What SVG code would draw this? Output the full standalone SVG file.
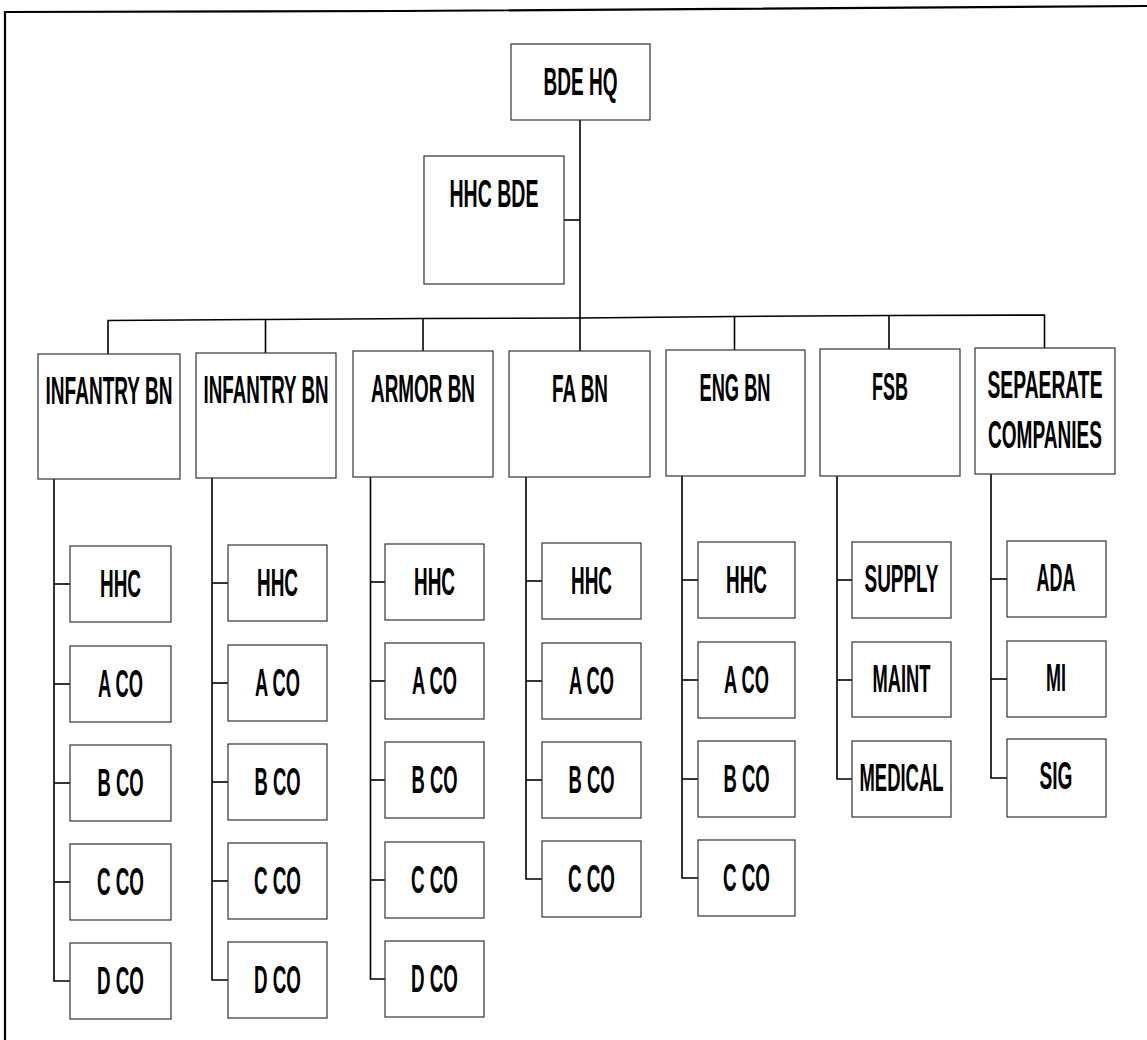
<svg xmlns="http://www.w3.org/2000/svg" width="1147" height="1040" viewBox="0 0 1147 1040">
<style>
.bg{fill:#fff}
.box{fill:#fff;stroke:#333;stroke-width:1.2}
.ln{fill:none;stroke:#000;stroke-width:1.6}
.frame{fill:none;stroke:#000;stroke-width:2.2}
text{font-family:"Liberation Sans",Arial,sans-serif;font-weight:bold;font-size:39px;fill:#000;text-anchor:middle}
</style>
<rect class="bg" x="0" y="0" width="1147" height="1040"/>
<g id="frame">
<polyline class="frame" points="5,1040 5,12 400,11 1147,6"/>
</g>
<g id="connectors">
<line class="ln" x1="580" y1="120" x2="580" y2="318"/>
<line class="ln" x1="564" y1="220" x2="580" y2="220"/>
<polyline class="ln" points="108,354 108,320.5 265.5,319.5 423,318.5 580,318 734.5,316.5 889,315.5 1044.5,315 1044.5,348"/>
<line class="ln" x1="265.5" y1="319.5" x2="265.5" y2="353"/>
<line class="ln" x1="423" y1="318.5" x2="423" y2="351"/>
<line class="ln" x1="580" y1="318" x2="580" y2="351"/>
<line class="ln" x1="734.5" y1="316.5" x2="734.5" y2="350"/>
<line class="ln" x1="889" y1="315.5" x2="889" y2="349"/>
<polyline class="ln" points="54,479 54,981 70,981"/>
<line class="ln" x1="54" y1="584" x2="70" y2="584"/>
<line class="ln" x1="54" y1="684" x2="70" y2="684"/>
<line class="ln" x1="54" y1="783" x2="70" y2="783"/>
<line class="ln" x1="54" y1="882" x2="70" y2="882"/>
<polyline class="ln" points="212,478 212,980 228,980"/>
<line class="ln" x1="212" y1="583" x2="228" y2="583"/>
<line class="ln" x1="212" y1="683" x2="228" y2="683"/>
<line class="ln" x1="212" y1="782" x2="228" y2="782"/>
<line class="ln" x1="212" y1="881" x2="228" y2="881"/>
<polyline class="ln" points="370.5,477 370.5,979 385,979"/>
<line class="ln" x1="370.5" y1="582" x2="385" y2="582"/>
<line class="ln" x1="370.5" y1="681" x2="385" y2="681"/>
<line class="ln" x1="370.5" y1="780" x2="385" y2="780"/>
<line class="ln" x1="370.5" y1="880" x2="385" y2="880"/>
<polyline class="ln" points="526,477 526,879 542,879"/>
<line class="ln" x1="526" y1="581" x2="542" y2="581"/>
<line class="ln" x1="526" y1="681" x2="542" y2="681"/>
<line class="ln" x1="526" y1="780" x2="542" y2="780"/>
<polyline class="ln" points="682,476 682,878 698,878"/>
<line class="ln" x1="682" y1="580" x2="698" y2="580"/>
<line class="ln" x1="682" y1="680" x2="698" y2="680"/>
<line class="ln" x1="682" y1="779" x2="698" y2="779"/>
<polyline class="ln" points="837,476 837,779 852,779"/>
<line class="ln" x1="837" y1="580" x2="852" y2="580"/>
<line class="ln" x1="837" y1="680" x2="852" y2="680"/>
<polyline class="ln" points="991,474 991,778 1007,778"/>
<line class="ln" x1="991" y1="579" x2="1007" y2="579"/>
<line class="ln" x1="991" y1="679" x2="1007" y2="679"/>
</g>
<g id="bde-hq"><rect class="box" x="511" y="44" width="139" height="76"/><text transform="translate(580.5,95) scale(0.5,1)" textLength="148" lengthAdjust="spacingAndGlyphs">BDE HQ</text></g>
<g id="hhc-bde"><rect class="box" x="424" y="156" width="140" height="128"/><text transform="translate(494,207) scale(0.5,1)" textLength="178" lengthAdjust="spacingAndGlyphs">HHC BDE</text></g>

<g id="inf-bn-1"><rect class="box" x="38" y="354" width="142" height="125"/><text transform="translate(109,404) scale(0.5,1)" textLength="254" lengthAdjust="spacingAndGlyphs">INFANTRY BN</text></g>
<g id="inf-bn-2"><rect class="box" x="196" y="353" width="140" height="125"/><text transform="translate(266,403) scale(0.5,1)" textLength="250" lengthAdjust="spacingAndGlyphs">INFANTRY BN</text></g>
<g id="armor-bn"><rect class="box" x="353" y="351" width="140" height="126"/><text transform="translate(423,402) scale(0.5,1)" textLength="208" lengthAdjust="spacingAndGlyphs">ARMOR BN</text></g>
<g id="fa-bn"><rect class="box" x="509" y="351" width="141" height="126"/><text transform="translate(580,402) scale(0.5,1)" textLength="112" lengthAdjust="spacingAndGlyphs">FA BN</text></g>
<g id="eng-bn"><rect class="box" x="666" y="350" width="139" height="126"/><text transform="translate(735,401) scale(0.5,1)" textLength="142" lengthAdjust="spacingAndGlyphs">ENG BN</text></g>
<g id="fsb"><rect class="box" x="820" y="349" width="140" height="127"/><text transform="translate(890,400) scale(0.5,1)" textLength="72" lengthAdjust="spacingAndGlyphs">FSB</text></g>
<g id="sep-co"><rect class="box" x="975" y="348" width="140" height="126"/><text transform="translate(1045,398) scale(0.5,1)" textLength="230" lengthAdjust="spacingAndGlyphs">SEPAERATE</text><text transform="translate(1045,448) scale(0.5,1)" textLength="228" lengthAdjust="spacingAndGlyphs">COMPANIES</text></g>

<g id="c1-hhc"><rect class="box" x="70" y="546" width="101" height="76"/><text transform="translate(120.5,597) scale(0.5,1)" textLength="82" lengthAdjust="spacingAndGlyphs">HHC</text></g>
<g id="c1-a"><rect class="box" x="70" y="646" width="101" height="76"/><text transform="translate(120.5,697) scale(0.5,1)" textLength="90" lengthAdjust="spacingAndGlyphs">A CO</text></g>
<g id="c1-b"><rect class="box" x="70" y="745" width="101" height="76"/><text transform="translate(120.5,796) scale(0.5,1)" textLength="92" lengthAdjust="spacingAndGlyphs">B CO</text></g>
<g id="c1-c"><rect class="box" x="70" y="844" width="101" height="76"/><text transform="translate(120.5,895) scale(0.5,1)" textLength="94" lengthAdjust="spacingAndGlyphs">C CO</text></g>
<g id="c1-d"><rect class="box" x="70" y="943" width="101" height="76"/><text transform="translate(120.5,994) scale(0.5,1)" textLength="94" lengthAdjust="spacingAndGlyphs">D CO</text></g>

<g id="c2-hhc"><rect class="box" x="228" y="545" width="99" height="76"/><text transform="translate(277.5,596) scale(0.5,1)" textLength="82" lengthAdjust="spacingAndGlyphs">HHC</text></g>
<g id="c2-a"><rect class="box" x="228" y="645" width="99" height="76"/><text transform="translate(277.5,696) scale(0.5,1)" textLength="90" lengthAdjust="spacingAndGlyphs">A CO</text></g>
<g id="c2-b"><rect class="box" x="228" y="744" width="99" height="76"/><text transform="translate(277.5,795) scale(0.5,1)" textLength="92" lengthAdjust="spacingAndGlyphs">B CO</text></g>
<g id="c2-c"><rect class="box" x="228" y="843" width="99" height="76"/><text transform="translate(277.5,894) scale(0.5,1)" textLength="94" lengthAdjust="spacingAndGlyphs">C CO</text></g>
<g id="c2-d"><rect class="box" x="228" y="942" width="99" height="76"/><text transform="translate(277.5,993) scale(0.5,1)" textLength="94" lengthAdjust="spacingAndGlyphs">D CO</text></g>

<g id="c3-hhc"><rect class="box" x="385" y="544" width="99" height="76"/><text transform="translate(434.5,595) scale(0.5,1)" textLength="82" lengthAdjust="spacingAndGlyphs">HHC</text></g>
<g id="c3-a"><rect class="box" x="385" y="643" width="99" height="76"/><text transform="translate(434.5,694) scale(0.5,1)" textLength="90" lengthAdjust="spacingAndGlyphs">A CO</text></g>
<g id="c3-b"><rect class="box" x="385" y="742" width="99" height="76"/><text transform="translate(434.5,793) scale(0.5,1)" textLength="92" lengthAdjust="spacingAndGlyphs">B CO</text></g>
<g id="c3-c"><rect class="box" x="385" y="842" width="99" height="76"/><text transform="translate(434.5,893) scale(0.5,1)" textLength="94" lengthAdjust="spacingAndGlyphs">C CO</text></g>
<g id="c3-d"><rect class="box" x="385" y="941" width="99" height="76"/><text transform="translate(434.5,992) scale(0.5,1)" textLength="94" lengthAdjust="spacingAndGlyphs">D CO</text></g>

<g id="c4-hhc"><rect class="box" x="542" y="543" width="99" height="76"/><text transform="translate(591.5,594) scale(0.5,1)" textLength="82" lengthAdjust="spacingAndGlyphs">HHC</text></g>
<g id="c4-a"><rect class="box" x="542" y="643" width="99" height="76"/><text transform="translate(591.5,694) scale(0.5,1)" textLength="90" lengthAdjust="spacingAndGlyphs">A CO</text></g>
<g id="c4-b"><rect class="box" x="542" y="742" width="99" height="76"/><text transform="translate(591.5,793) scale(0.5,1)" textLength="92" lengthAdjust="spacingAndGlyphs">B CO</text></g>
<g id="c4-c"><rect class="box" x="542" y="841" width="99" height="76"/><text transform="translate(591.5,892) scale(0.5,1)" textLength="94" lengthAdjust="spacingAndGlyphs">C CO</text></g>

<g id="c5-hhc"><rect class="box" x="698" y="542" width="97" height="76"/><text transform="translate(746.5,593) scale(0.5,1)" textLength="82" lengthAdjust="spacingAndGlyphs">HHC</text></g>
<g id="c5-a"><rect class="box" x="698" y="642" width="97" height="76"/><text transform="translate(746.5,693) scale(0.5,1)" textLength="90" lengthAdjust="spacingAndGlyphs">A CO</text></g>
<g id="c5-b"><rect class="box" x="698" y="741" width="97" height="76"/><text transform="translate(746.5,792) scale(0.5,1)" textLength="92" lengthAdjust="spacingAndGlyphs">B CO</text></g>
<g id="c5-c"><rect class="box" x="698" y="840" width="97" height="76"/><text transform="translate(746.5,891) scale(0.5,1)" textLength="94" lengthAdjust="spacingAndGlyphs">C CO</text></g>

<g id="c6-supply"><rect class="box" x="852" y="542" width="99" height="76"/><text transform="translate(901.5,592) scale(0.5,1)" textLength="148" lengthAdjust="spacingAndGlyphs">SUPPLY</text></g>
<g id="c6-maint"><rect class="box" x="852" y="642" width="99" height="75"/><text transform="translate(901.5,692) scale(0.5,1)" textLength="116" lengthAdjust="spacingAndGlyphs">MAINT</text></g>
<g id="c6-medical"><rect class="box" x="852" y="741" width="99" height="76"/><text transform="translate(901.5,791) scale(0.5,1)" textLength="168" lengthAdjust="spacingAndGlyphs">MEDICAL</text></g>

<g id="c7-ada"><rect class="box" x="1007" y="541" width="99" height="76"/><text transform="translate(1056,591) scale(0.5,1)" textLength="78" lengthAdjust="spacingAndGlyphs">ADA</text></g>
<g id="c7-mi"><rect class="box" x="1007" y="641" width="99" height="76"/><text transform="translate(1056,691) scale(0.5,1)" textLength="40" lengthAdjust="spacingAndGlyphs">MI</text></g>
<g id="c7-sig"><rect class="box" x="1007" y="739" width="99" height="78"/><text transform="translate(1056,789) scale(0.5,1)" textLength="66" lengthAdjust="spacingAndGlyphs">SIG</text></g>
</svg>
